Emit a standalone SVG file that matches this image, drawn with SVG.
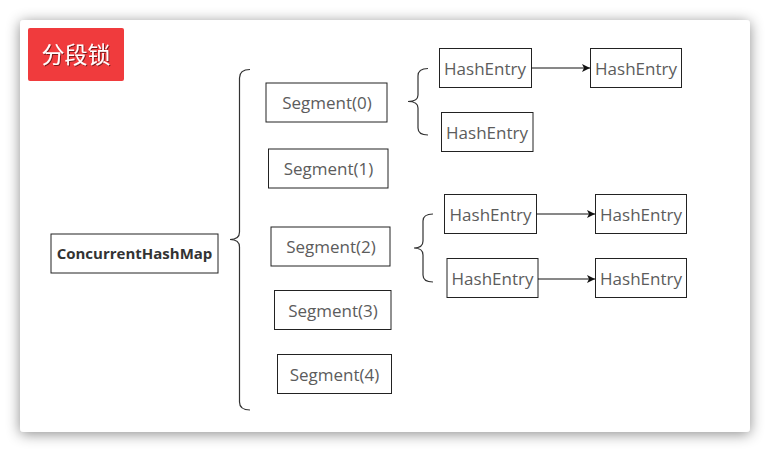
<svg xmlns="http://www.w3.org/2000/svg" width="770" height="452" viewBox="0 0 770 452">
<defs>
<filter id="sh" x="-10%" y="-10%" width="120%" height="120%">
<feDropShadow dx="0" dy="2" stdDeviation="7" flood-color="#000" flood-opacity="0.45"/>
</filter>
<filter id="ts" x="-10%" y="-10%" width="120%" height="130%">
<feDropShadow dx="1" dy="1" stdDeviation="0.6" flood-color="#000" flood-opacity="0.5"/>
</filter>
<marker id="arr" markerWidth="10" markerHeight="10" refX="8" refY="5" orient="auto" markerUnits="userSpaceOnUse">
<path d="M0,1 L8,5 L0,9 L2,5 Z" fill="#111"/>
</marker>
<style>
.box{fill:#fff;stroke:#222;stroke-width:1}
.t{font-family:"Open Sans","Noto Sans","Liberation Sans",sans-serif;font-size:17px;fill:#5c5c5c;text-anchor:middle}
.b{font-family:"Open Sans","Noto Sans","Liberation Sans",sans-serif;font-size:15px;font-weight:bold;fill:#333;text-anchor:middle}
.br{fill:none;stroke:#333;stroke-width:1.2}
.ln{fill:none;stroke:#111;stroke-width:1;marker-end:url(#arr)}
</style>
</defs>
<rect x="0" y="0" width="770" height="452" fill="#fff"/>
<rect x="20" y="20" width="730" height="412" rx="4" fill="#fff" filter="url(#sh)"/>
<g id="title">
<rect x="28" y="28" width="96" height="53" rx="2" fill="#f03b3d"/>
<text x="76" y="63" font-family="'Noto Sans CJK SC',sans-serif" font-size="23" fill="#fff" text-anchor="middle" filter="url(#ts)">分段锁</text>
</g>
<g id="chm"><rect class="box" x="51" y="234" width="167" height="39"/><text class="b" x="134.5" y="259">ConcurrentHashMap</text></g>
<g id="seg0"><rect class="box" x="266" y="83" width="121" height="39"/><text class="t" x="327" y="109">Segment(0)</text></g>
<g id="seg1"><rect class="box" x="268.5" y="149" width="119.5" height="39"/><text class="t" x="328.5" y="175">Segment(1)</text></g>
<g id="seg2"><rect class="box" x="271" y="227" width="119" height="39"/><text class="t" x="331" y="253">Segment(2)</text></g>
<g id="seg3"><rect class="box" x="274.5" y="290.5" width="116.5" height="39"/><text class="t" x="333" y="316.5">Segment(3)</text></g>
<g id="seg4"><rect class="box" x="277.5" y="354.5" width="114" height="39"/><text class="t" x="334.5" y="380.5">Segment(4)</text></g>
<g id="he1"><rect class="box" x="439.5" y="48.5" width="92" height="39"/><text class="t" x="485" y="75">HashEntry</text></g>
<g id="he2"><rect class="box" x="590.5" y="48.5" width="91" height="39"/><text class="t" x="636" y="75">HashEntry</text></g>
<g id="he3"><rect class="box" x="441.5" y="112.5" width="91.5" height="39"/><text class="t" x="487" y="139">HashEntry</text></g>
<g id="he4"><rect class="box" x="444.5" y="194.5" width="92" height="39"/><text class="t" x="490.5" y="221">HashEntry</text></g>
<g id="he5"><rect class="box" x="595.5" y="194.5" width="91" height="39"/><text class="t" x="641" y="221">HashEntry</text></g>
<g id="he6"><rect class="box" x="447" y="258.5" width="91" height="39"/><text class="t" x="492.5" y="285">HashEntry</text></g>
<g id="he7"><rect class="box" x="595.5" y="258.5" width="91" height="39"/><text class="t" x="641" y="285">HashEntry</text></g>
<g id="connectors">
<path class="br" d="M250,69.5 Q239.5,69.5 239.5,78 L239.5,232 Q239.5,239.5 230,239.5 Q239.5,239.5 239.5,247 L239.5,402 Q239.5,410 250,410"/>
<path class="br" d="M428,68.5 Q418,68.5 418,76 L418,95 Q418,101.5 408,101.5 Q418,101.5 418,108 L418,128 Q418,135 428,135"/>
<path class="br" d="M433,214 Q423,214 423,221 L423,241 Q423,248 414,248 Q423,248 423,255 L423,275 Q423,282 433,282"/>
<line class="ln" x1="531.5" y1="68" x2="590" y2="68"/>
<line class="ln" x1="536.5" y1="214" x2="595" y2="214"/>
<line class="ln" x1="538" y1="279" x2="595" y2="279"/>
</g>
</svg>
